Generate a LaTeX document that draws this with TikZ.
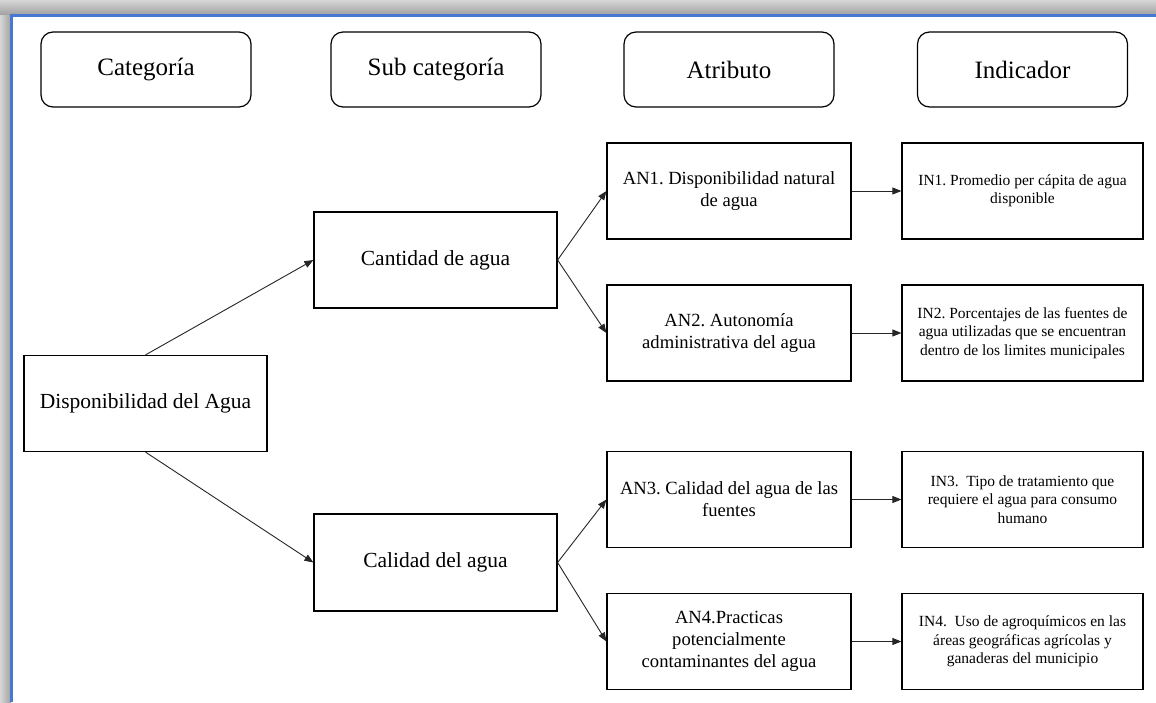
\documentclass[tikz,border=0pt]{standalone}
\usepackage{fontspec}
\setmainfont{Liberation Serif}
\newfontfamily\boxfont{Liberation Serif}
\usetikzlibrary{arrows.meta}
\definecolor{framecolor}{RGB}{70,120,210}
\definecolor{shadetop}{RGB}{214,214,214}
\definecolor{shadebottom}{RGB}{160,160,160}
\begin{document}
\frenchspacing
\begin{tikzpicture}[x=1pt,y=-1pt,
  box/.style={draw=black,line width=1.2pt,rectangle,inner sep=0pt,align=center,
    minimum width=243pt,minimum height=96pt},
  head/.style={draw=black,line width=1.2pt,rounded corners=12pt,inner sep=0pt,
    minimum width=210pt,minimum height=75pt,font=\boxfont\fontsize{25}{30}\selectfont},
  mainbox/.style={box,font=\boxfont\fontsize{21.5}{25}\selectfont},
  attrbox/.style={box,minimum width=244pt,font=\boxfont\fontsize{18.6}{21.8}\selectfont},
  indbox/.style={box,minimum width=241pt,font=\boxfont\fontsize{15.5}{18.3}\selectfont},
  link/.style={draw=black!85,line width=0.9pt,-{Triangle[length=9pt,width=7pt]}}
]
\useasboundingbox (0,0) rectangle (1156,702);
\fill[white] (0,0) rectangle (1156,702);

% window frame: soft shadow bands and blue border
\shade[top color=shadetop,bottom color=shadebottom] (0,0) rectangle (1156,15);
\shade[left color=shadetop,right color=shadebottom] (0,15) rectangle (11,702);
\draw[framecolor,line width=2.2pt] (11.5,702) -- (11.5,15.5) -- (1156,15.5);

% column headers
\node[head] (hcat) at (146,69.5) {Categoría};
\node[head] (hsub) at (436,69.5) {Sub categoría};
\node[head] (hatr) at (729,69.5) {Atributo};
\node[head] (hind) at (1022.5,69.5) {Indicador};

% category and sub categories
\node[mainbox] (disp) at (145.5,403.5) {Disponibilidad del Agua};
\node[mainbox] (cant) at (435.5,260) {Cantidad de agua};
\node[mainbox,minimum height=97pt] (cali) at (435.5,562.5) {Calidad del agua};

% attributes
\node[attrbox] (an1) at (729,191) {AN1. Disponibilidad natural\\de agua};
\node[attrbox] (an2) at (729,333) {AN2. Autonomía\\administrativa del agua};
\node[attrbox] (an3) at (729,499.5) {AN3. Calidad del agua de las\\fuentes};
\node[attrbox] (an4) at (729,641.5) {AN4.Practicas\\potencialmente\\contaminantes del agua};

% indicators
\node[indbox] (in1) at (1022.5,191) {IN1. Promedio per cápita de agua\\disponible};
\node[indbox] (in2) at (1022.5,333) {IN2. Porcentajes de las fuentes de\\agua utilizadas que se encuentran\\dentro de los limites municipales};
\node[indbox] (in3) at (1022.5,499.5) {IN3.\ \ Tipo de tratamiento que\\requiere el agua para consumo\\humano};
\node[indbox] (in4) at (1022.5,641.5) {IN4.\ \ Uso de agroquímicos en las\\áreas geográficas agrícolas y\\ganaderas del municipio};

% connectors
\draw[link] (disp.north) -- (cant.west);
\draw[link] (disp.south) -- (cali.west);
\draw[link] (cant.east) -- (an1.west);
\draw[link] (cant.east) -- (an2.west);
\draw[link] (cali.east) -- (an3.west);
\draw[link] (cali.east) -- (an4.west);
\draw[link] (an1) -- (in1);
\draw[link] (an2) -- (in2);
\draw[link] (an3) -- (in3);
\draw[link] (an4) -- (in4);
\end{tikzpicture}
\end{document}
